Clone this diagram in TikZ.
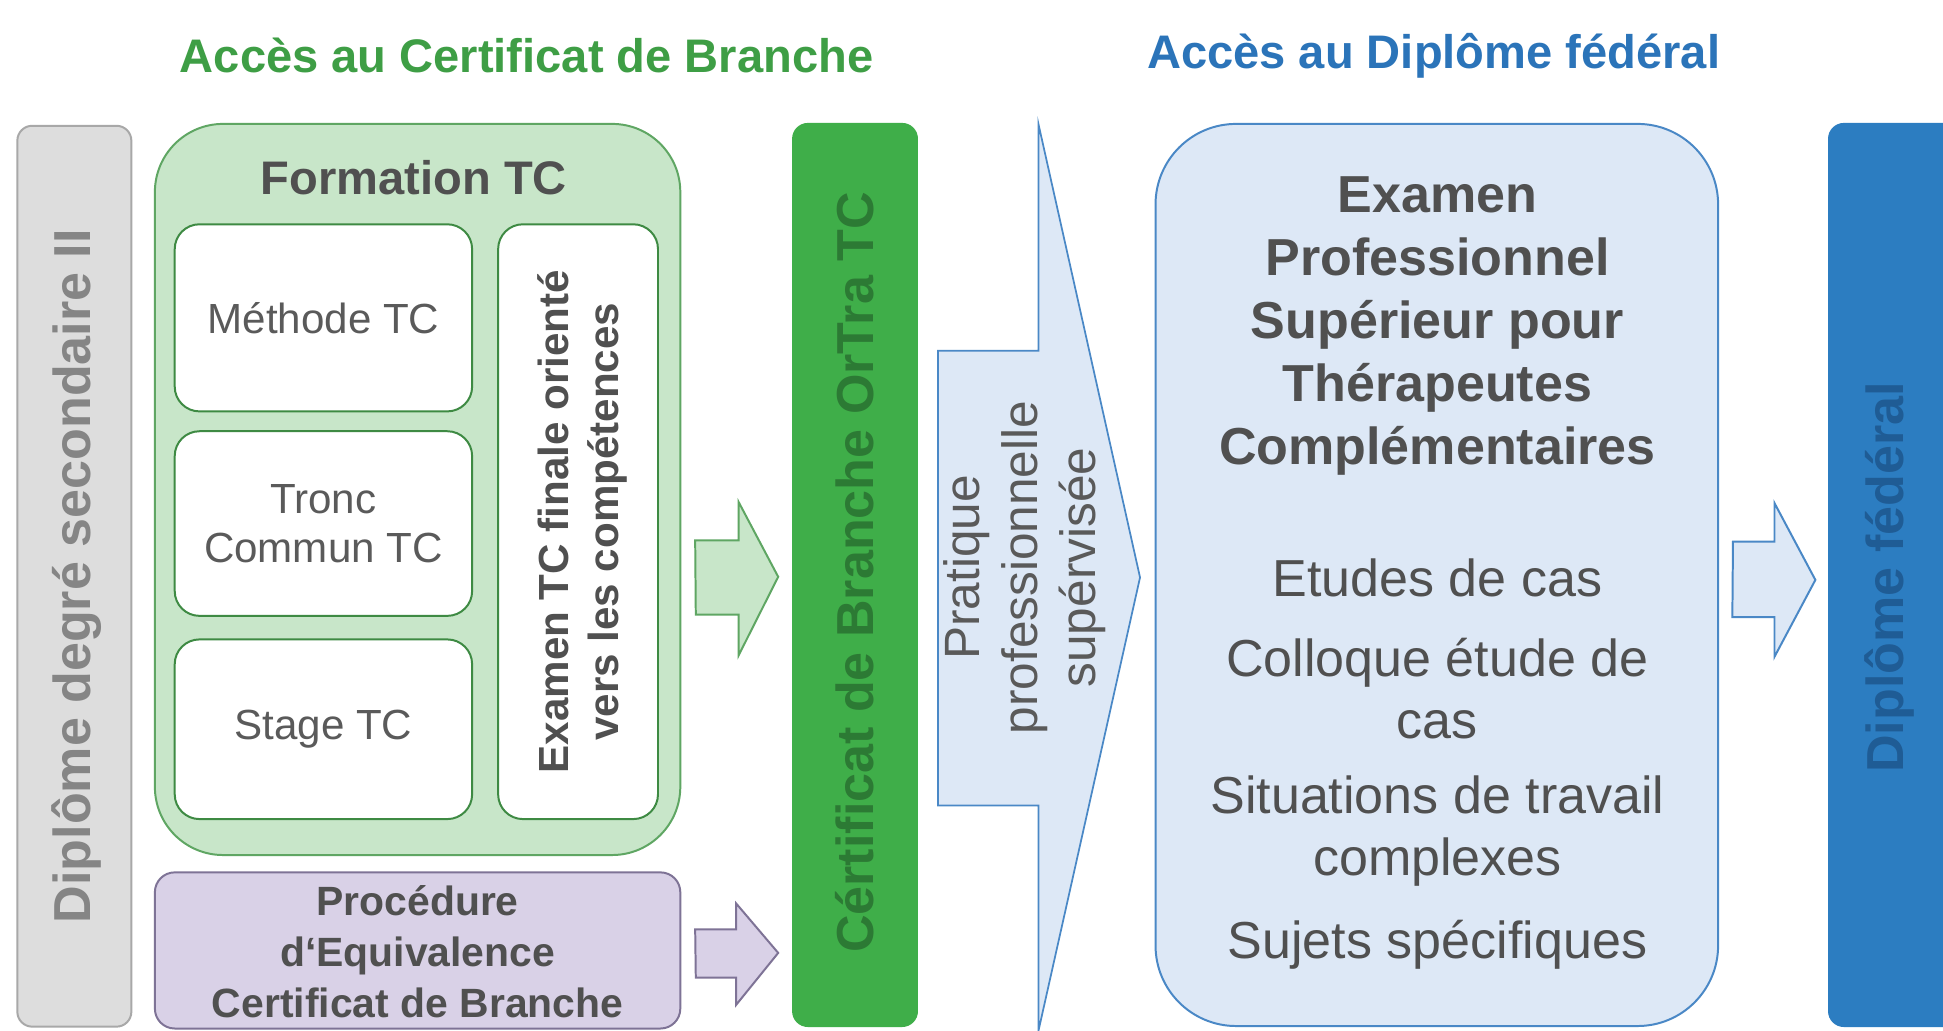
\documentclass[tikz,border=0pt]{standalone}
\usepackage{fontspec}
\setmainfont{Liberation Sans}
\usetikzlibrary{positioning}
\definecolor{titlegreen}{HTML}{3E9E45}
\definecolor{titleblue}{HTML}{2B74B9}
\definecolor{grayfill}{HTML}{DDDDDD}
\definecolor{grayline}{HTML}{A8A8A8}
\definecolor{graytext}{HTML}{858585}
\definecolor{formfill}{HTML}{C8E6C9}
\definecolor{formline}{HTML}{5FA663}
\definecolor{innerline}{HTML}{3E8A43}
\definecolor{procfill}{HTML}{D9D1E7}
\definecolor{procline}{HTML}{7E7396}
\definecolor{certfill}{HTML}{3FAE49}
\definecolor{certtext}{HTML}{2C7A34}
\definecolor{bluefill}{HTML}{DDE8F6}
\definecolor{blueline}{HTML}{4A88C6}
\definecolor{diplfill}{HTML}{2C7DC1}
\definecolor{dipltext}{HTML}{1F5C95}
\definecolor{darktext}{HTML}{505050}
\definecolor{midtext}{HTML}{5A5A5A}
\newcommand{\fs}[2]{\fontsize{#1}{#2}\selectfont}
\begin{document}
\begin{tikzpicture}[x=1pt,y=-1pt,
  boxbase/.style={inner sep=0pt, outer sep=0pt, line width=1.6pt},
  title/.style={font=\bfseries\fs{38}{44}},
  inner/.style={boxbase, draw=innerline, fill=white, rounded corners=20pt,
    text=midtext, align=center, font=\fs{34}{40}},
  vtext/.style={rotate=90, align=center, inner sep=0pt},
  blockarrow/.style={line width=1.6pt, line join=miter}
]
\useasboundingbox (0,0) rectangle (1568,832);
\fill[white] (0,0) rectangle (1568,832);

% titles
\node[title, text=titlegreen] (t1) at (425,45) {Accès au Certificat de Branche};
\node[title, text=titleblue] (t2) at (1157,45) {Accès au Diplôme fédéral};

% gray bar
\node[boxbase, draw=grayline, fill=grayfill, rounded corners=12pt,
      minimum width=92pt, minimum height=727pt] (sec) at (60,465) {};
\node[vtext, text=graytext, font=\bfseries\fs{42}{48}] (sect) at (62,465) {Diplôme degré secondaire II};

% Formation TC
\node[boxbase, draw=formline, fill=formfill, rounded corners=55pt,
      minimum width=424pt, minimum height=590pt] (form) at (337,395) {};
\node[font=\bfseries\fs{38}{44}, text=darktext] (formt) at (334,143) {Formation TC};
\node[inner, minimum width=240pt, minimum height=151pt] (meth) at (261,256.5) {Méthode TC};
\node[inner, minimum width=240pt, minimum height=149pt] (tronc) at (261,422.5) {Tronc\\Commun TC};
\node[inner, minimum width=240pt, minimum height=145pt] (stage) at (261,588.5) {Stage TC};
\node[inner, minimum width=129pt, minimum height=480pt] (exin) at (466.5,421) {};
\node[vtext, text=darktext, font=\bfseries\fs{34}{40}] (exint) at (470,421) {Examen TC finale orienté\\vers les compétences};

% Procedure
\node[boxbase, draw=procline, fill=procfill, rounded corners=16pt,
      minimum width=424pt, minimum height=126pt] (proc) at (337,767) {};
\node[font=\bfseries\fs{33}{41}, text=darktext, align=center, inner sep=0pt] (proct) at (337,768) {Procédure\\d‘Equivalence\\Certificat de Branche};

% Certificat bar
\node[boxbase, draw=certfill, fill=certfill, rounded corners=12pt,
      minimum width=100pt, minimum height=728pt] (cert) at (690,464) {};
\node[vtext, text=certtext, font=\bfseries\fs{42}{48}] (certt) at (690,462) {Cértificat de Branche OrTra TC};

% green arrow (Formation TC -> Certificat)
\coordinate (gtip) at (628,465.5);
\draw[blockarrow, draw=formline, fill=formfill]
  (form.east |- 0,436) ++(12,0) -- (596,436) -- (596,405) -- (gtip) -- (596,529) -- (596,496) -- (561.5,496) -- cycle;
% purple arrow (Procedure -> Certificat)
\coordinate (ptip) at (628,769);
\draw[blockarrow, draw=procline, fill=procfill]
  (proc.east |- 0,750) ++(12,0) -- (594,750) -- (594,729) -- (ptip) -- (594,811) -- (594,789) -- (561.5,789) -- cycle;

% Pratique arrow
\draw[line width=1.4pt, draw=blueline, fill=bluefill, line join=miter]
  (757,283) -- (838,283) -- (838,100) -- (920,466) -- (838,832) -- (838,650) -- (757,650) -- cycle;
\node[vtext, text=midtext, font=\fs{40}{47}] (prat) at (827,458) {Pratique\\professionnelle\\supérvisée};

% Examen professionnel box
\node[boxbase, draw=blueline, fill=bluefill, rounded corners=65pt,
      minimum width=454pt, minimum height=728pt] (exam) at (1159.5,464) {};
\node[font=\bfseries\fs{42}{51}, text=darktext, align=center, inner sep=0pt] (examt) at (1160,263) {Examen\\Professionnel\\Supérieur pour\\Thérapeutes\\Complémentaires};
\node[font=\fs{42}{50}, text=darktext, align=center, inner sep=0pt] (e1) at (1160,466) {Etudes de cas};
\node[font=\fs{42}{50}, text=darktext, align=center, inner sep=0pt] (e2) at (1160,556) {Colloque étude de\\cas};
\node[font=\fs{42}{50}, text=darktext, align=center, inner sep=0pt] (e3) at (1160,671) {Situations de travail\\complexes};
\node[font=\fs{42}{50}, text=darktext, align=center, inner sep=0pt] (e4) at (1160,762) {Sujets spécifiques};

% blue small arrow (Examen -> Diplome)
\coordinate (btip) at (1465,468);
\draw[blockarrow, draw=blueline, fill=bluefill]
  (exam.east |- 0,437) ++(12,0) -- (1432,437) -- (1432,406) -- (btip) -- (1432,530) -- (1432,498) -- (1398,498) -- cycle;

% Diplome federal bar
\node[boxbase, draw=diplfill, fill=diplfill, rounded corners=12pt,
      minimum width=110pt, minimum height=728pt] (dipl) at (1531,464) {};
\node[vtext, text=dipltext, font=\bfseries\fs{42}{48}] (diplt) at (1525,466) {Diplôme fédéral};
\end{tikzpicture}
\end{document}
